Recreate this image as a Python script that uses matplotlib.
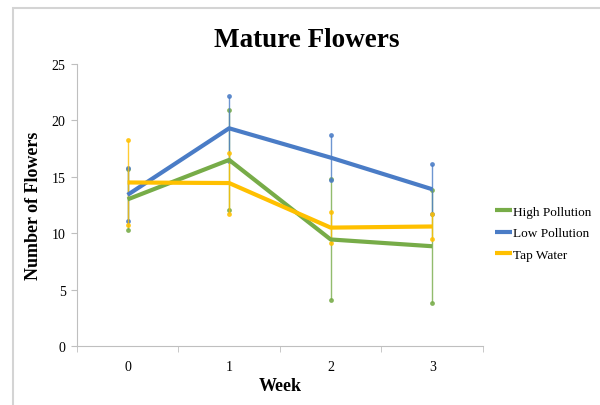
import numpy as np
import matplotlib.pyplot as plt
from matplotlib.patches import Rectangle

plt.rcParams['font.family'] = ['Liberation Serif', 'DejaVu Serif']

weeks = ['0', '1', '2', '3']
high = [13.0, 16.5, 9.45, 8.85]
high_err = [2.7, 4.4, 5.35, 5.0]
low = [13.4, 19.3, 16.7, 13.9]
low_err = [2.35, 2.9, 2.0, 2.2]
tap = [14.5, 14.45, 10.5, 10.6]
tap_err = [3.8, 2.7, 1.35, 1.1]

names = ['High Pollution', 'Low Pollution', 'Tap Water']
colors = ['#77AC48', '#4A7CC6', '#FFC000']

fig = plt.figure(figsize=(6, 4.06), dpi=100)
ax = fig.add_axes([0.128, 0.145, 0.677, 0.695])

# chart border like the excel frame
fig.patches.append(Rectangle((13/600, -0.1), 1.2, 1 - 9/406 + 0.1, transform=fig.transFigure,
                             fill=False, edgecolor='#D4D4D4', lw=1.5))

x = np.arange(len(weeks))
for vals, errs, name, c in zip([high, low, tap], [high_err, low_err, tap_err], names, colors):
    vals = np.array(vals)
    errs = np.array(errs)
    ax.errorbar(x, vals, yerr=errs, fmt='none', ecolor=c, elinewidth=1, alpha=0.8, zorder=2)
    ax.plot(x, vals + errs, 'o', ms=2.5, color=c, alpha=0.8, zorder=2)
    ax.plot(x, vals - errs, 'o', ms=2.5, color=c, alpha=0.8, zorder=2)
    ax.plot(x, vals, color=c, lw=3, label=name, zorder=3, solid_capstyle='butt')

ax.set_xlim(-0.5, 3.5)
ax.set_ylim(0, 25)
ax.set_yticks(range(0, 26, 5))
ax.set_xticks(x)
ax.set_xticklabels(weeks)
ax.set_xticks(np.arange(-0.5, 3.6, 1), minor=True)
ax.tick_params(axis='x', which='major', length=0, pad=10, labelsize=10)
ax.tick_params(axis='x', which='minor', length=4, color='#BFBFBF', direction='out')
ax.tick_params(axis='y', length=4, color='#BFBFBF', labelsize=10, pad=4)
for s in ['top', 'right']:
    ax.spines[s].set_visible(False)
for s in ['left', 'bottom']:
    ax.spines[s].set_color('#BFBFBF')

ax.set_xlabel('Week', fontsize=13, fontweight='bold', labelpad=3)
ax.set_ylabel('Number of Flowers', fontsize=13, fontweight='bold', labelpad=7)
fig.text(0.512, 0.9, 'Mature Flowers', ha='center', va='center', fontsize=19.5, fontweight='bold')

ax.legend(loc='center left', bbox_to_anchor=(1.0, 0.40), frameon=False, fontsize=9.5,
          handlelength=1.3, handletextpad=0.1, labelspacing=0.7)

fig.savefig('out.png')
